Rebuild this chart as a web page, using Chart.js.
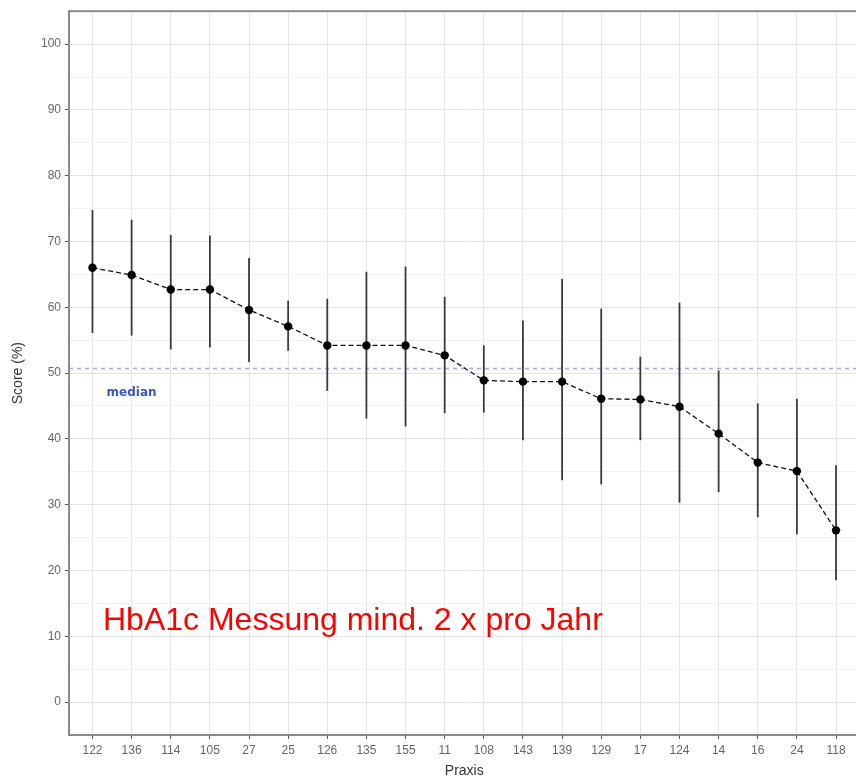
<!DOCTYPE html>
<html>
<head>
<meta charset="utf-8">
<script src="https://cdn.jsdelivr.net/npm/chart.js@4.4.0/dist/chart.umd.min.js"></script>
<style>
html,body{margin:0;padding:0;background:#fff;overflow:hidden;}
#wrap{width:870px;height:781px;position:relative;}
</style>
</head>
<body>
<div id="wrap"><canvas id="c"></canvas></div>
<script>
const praxis = ['122','136','114','105','27','25','126','135','155','11','108','143','139','129','17','124','14','16','24','118'];
const score  = [66.0,64.9,62.7,62.7,59.6,57.1,54.2,54.2,54.2,52.7,48.9,48.7,48.7,46.1,46.0,44.9,40.8,36.4,35.1,26.1];
const lower  = [56.1,55.7,53.6,53.9,51.7,53.4,47.3,43.1,41.9,43.9,44.0,39.8,33.7,33.1,39.8,30.3,31.9,28.1,25.5,18.5];
const upper  = [74.8,73.3,71.0,70.9,67.5,61.0,61.3,65.4,66.2,61.6,54.2,58.0,64.3,59.8,52.5,60.7,50.4,45.4,46.1,36.0];
const medianValue = 50.7;
const yTicks = [0,10,20,30,40,50,60,70,80,90,100];
const annotationText = 'HbA1c Messung mind. 2 x pro Jahr';

const FONT = '"Liberation Sans", Arial, sans-serif';

const extras = {
  id: 'extras',
  beforeDatasetsDraw(chart) {
    const ctx = chart.ctx, xs = chart.scales.x, ys = chart.scales.y, a = chart.chartArea;
    ctx.save();
    // median line
    ctx.strokeStyle = '#a8a8f0';
    ctx.lineWidth = 1.6;
    ctx.setLineDash([4, 4]);
    const my = ys.getPixelForValue(medianValue);
    ctx.beginPath(); ctx.moveTo(a.left, my); ctx.lineTo(a.right, my); ctx.stroke();
    ctx.setLineDash([]);
    // error bars
    ctx.strokeStyle = '#3a3a3a';
    ctx.lineWidth = 1.8;
    for (let i = 0; i < praxis.length; i++) {
      const x = xs.getPixelForValue(i);
      ctx.beginPath();
      ctx.moveTo(x, ys.getPixelForValue(lower[i]));
      ctx.lineTo(x, ys.getPixelForValue(upper[i]));
      ctx.stroke();
    }
    // median label
    ctx.fillStyle = '#3a56c8';
    ctx.font = 'bold 12px "DejaVu Sans", sans-serif';
    ctx.textAlign = 'center';
    ctx.textBaseline = 'middle';
    ctx.fillText('median', xs.getPixelForValue(1), ys.getPixelForValue(47.0));
    ctx.restore();
  },
  afterDraw(chart) {
    const ctx = chart.ctx, xs = chart.scales.x, ys = chart.scales.y, a = chart.chartArea;
    ctx.save();
    ctx.strokeStyle = '#8a8a8a';
    ctx.lineWidth = 2;
    ctx.strokeRect(a.left, a.top, a.right - a.left, a.bottom - a.top);
    ctx.fillStyle = '#ff0000';
    ctx.font = '32px ' + FONT;
    ctx.textAlign = 'left';
    ctx.textBaseline = 'alphabetic';
    ctx.fillText(annotationText, 103, ys.getPixelForValue(10.9));
    ctx.restore();
  }
};

new Chart(document.getElementById('c'), {
  type: 'line',
  data: {
    datasets: [{
      data: score.map((v, i) => ({x: i, y: v})),
      borderColor: '#111',
      borderWidth: 1.3,
      borderDash: [5, 3],
      pointRadius: 4.2,
      pointBackgroundColor: '#000',
      pointBorderColor: '#000',
      pointBorderWidth: 0,
      tension: 0,
      fill: false
    }]
  },
  options: {
    responsive: true,
    maintainAspectRatio: false,
    animation: false,
    layout: {padding: {top: 10, right: 10.5, left: 0, bottom: 0}},
    plugins: {legend: {display: false}, tooltip: {enabled: false}},
    scales: {
      x: {
        type: 'linear',
        min: -0.6, max: 19.6,
        afterFit(s) { s.height = 46; },
        ticks: {
          stepSize: 1, includeBounds: false, autoSkip: false, maxRotation: 0,
          padding: 4,
          color: '#666', font: {family: FONT, size: 12},
          callback: v => (Number.isInteger(v) && praxis[v] !== undefined) ? praxis[v] : ''
        },
        grid: {color: '#e6e6e6', lineWidth: 1, tickLength: 4, tickColor: '#555', drawTicks: true},
        border: {display: false},
        title: {display: true, text: 'Praxis', color: '#333', font: {family: FONT, size: 14}, padding: {top: 0, bottom: 1}}
      },
      y: {
        min: -5, max: 105,
        afterFit(s) { s.width = 69; },
        afterBuildTicks(s) {
          const t = [];
          for (let v = -5; v <= 105; v += 5) t.push({value: v});
          s.ticks = t;
        },
        ticks: {
          padding: 4,
          color: '#666', font: {family: FONT, size: 12},
          callback: v => yTicks.includes(v) ? String(v) : ''
        },
        grid: {
          color: c => (c.tick && c.tick.value % 10 === 0) ? '#e3e3e3' : '#f1f1f1',
          lineWidth: 1,
          tickLength: 4,
          tickColor: c => (c.tick && c.tick.value % 10 === 0) ? '#555' : 'rgba(0,0,0,0)'
        },
        border: {display: false},
        title: {display: true, text: 'Score (%)', color: '#333', font: {family: FONT, size: 14}, padding: {top: 10, bottom: 0}}
      }
    }
  },
  plugins: [extras]
});
</script>
</body>
</html>
